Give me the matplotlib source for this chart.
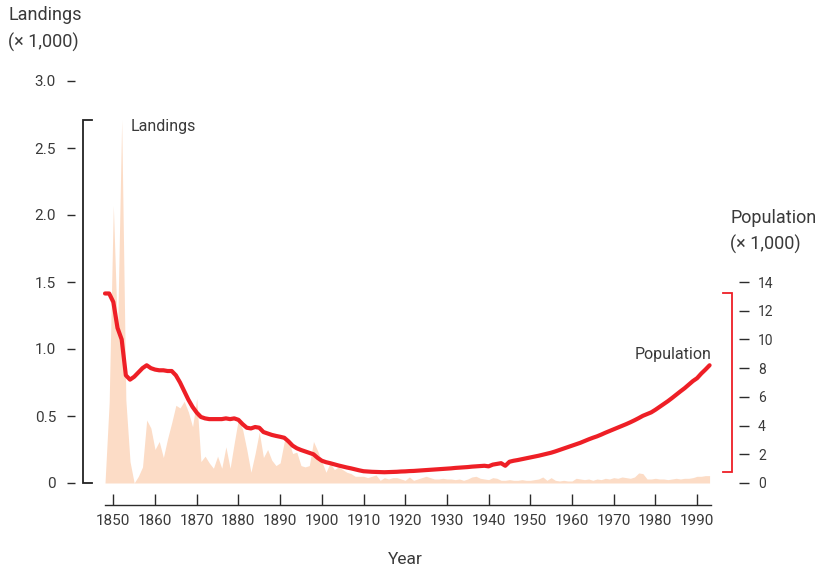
import matplotlib
matplotlib.use("Agg")
import matplotlib.pyplot as plt
import matplotlib.transforms as mtransforms

plt.rcParams["font.family"] = ["Roboto", "DejaVu Sans"]

# ---- data -------------------------------------------------------------
years = list(range(1848, 1994))

# annual landings (thousands)
landings = [
    0.00, 0.60, 2.07, 1.10, 2.71, 0.62, 0.16, 0.00, 0.05, 0.12,   # 1848-1857
    0.47, 0.41, 0.25, 0.31, 0.19, 0.33, 0.45, 0.58, 0.56, 0.61,   # 1858-1867
    0.53, 0.42, 0.63, 0.16, 0.20, 0.15, 0.11, 0.20, 0.11, 0.27,   # 1868-1877
    0.11, 0.30, 0.48, 0.40, 0.25, 0.08, 0.22, 0.38, 0.19, 0.25,   # 1878-1887
    0.17, 0.13, 0.15, 0.31, 0.32, 0.22, 0.23, 0.13, 0.12, 0.13,   # 1888-1897
    0.31, 0.24, 0.16, 0.08, 0.15, 0.10, 0.12, 0.10, 0.08, 0.07,   # 1898-1907
    0.05, 0.05, 0.05, 0.04, 0.05, 0.06, 0.02, 0.04, 0.03, 0.04,   # 1908-1917
    0.04, 0.03, 0.02, 0.045, 0.02, 0.03, 0.04, 0.05, 0.04, 0.03,  # 1918-1927
    0.03, 0.035, 0.03, 0.03, 0.025, 0.03, 0.02, 0.03, 0.045, 0.05,  # 1928-1937
    0.035, 0.03, 0.025, 0.04, 0.035, 0.02, 0.02, 0.025, 0.02, 0.02,  # 1938-1947
    0.025, 0.02, 0.02, 0.025, 0.03, 0.045, 0.02, 0.04, 0.02, 0.015,  # 1948-1957
    0.02, 0.015, 0.015, 0.035, 0.03, 0.025, 0.03, 0.02, 0.03, 0.025,  # 1958-1967
    0.035, 0.03, 0.04, 0.035, 0.045, 0.04, 0.035, 0.045, 0.075, 0.07,  # 1968-1977
    0.03, 0.03, 0.035, 0.03, 0.03, 0.025, 0.03, 0.035, 0.03, 0.035,  # 1978-1987
    0.035, 0.04, 0.05, 0.05, 0.055, 0.055,                           # 1988-1993
]

# population (thousands)
population = [
    13.2, 13.2, 12.6, 10.8, 10.0, 7.5, 7.2, 7.4, 7.7, 8.0,        # 1848-1857
    8.2, 8.0, 7.9, 7.85, 7.85, 7.8, 7.8, 7.5, 7.0, 6.4,           # 1858-1867
    5.8, 5.3, 4.9, 4.6, 4.5, 4.45, 4.45, 4.45, 4.45, 4.5,         # 1868-1877
    4.45, 4.5, 4.4, 4.1, 3.85, 3.8, 3.9, 3.85, 3.55, 3.45,        # 1878-1887
    3.35, 3.28, 3.22, 3.15, 2.9, 2.6, 2.42, 2.3, 2.2, 2.1,        # 1888-1897
    2.0, 1.75, 1.55, 1.45, 1.38, 1.3, 1.22, 1.15, 1.08, 1.02,     # 1898-1907
    0.95, 0.88, 0.82, 0.8, 0.78, 0.77, 0.76, 0.75, 0.76, 0.77,    # 1908-1917
    0.78, 0.8, 0.81, 0.83, 0.84, 0.86, 0.88, 0.9, 0.92, 0.94,     # 1918-1927
    0.96, 0.98, 1.0, 1.02, 1.05, 1.07, 1.09, 1.11, 1.14, 1.16,    # 1928-1937
    1.18, 1.2, 1.16, 1.28, 1.33, 1.38, 1.2, 1.48, 1.55, 1.6,      # 1938-1947
    1.66, 1.72, 1.78, 1.84, 1.9, 1.97, 2.04, 2.11, 2.2, 2.3,      # 1948-1957
    2.4, 2.5, 2.6, 2.7, 2.8, 2.92, 3.04, 3.15, 3.25, 3.37,        # 1958-1967
    3.5, 3.62, 3.74, 3.86, 3.98, 4.1, 4.23, 4.37, 4.52, 4.68,     # 1968-1977
    4.8, 4.92, 5.1, 5.3, 5.5, 5.7, 5.92, 6.15, 6.38, 6.6,         # 1978-1987
    6.85, 7.1, 7.3, 7.62, 7.9, 8.2,                               # 1988-1993
]

year_ticks = list(range(1850, 2000, 10))
landing_ticks = [0, 0.5, 1.0, 1.5, 2.0, 2.5, 3.0]
landing_tick_labels = ["0", "0.5", "1.0", "1.5", "2.0", "2.5", "3.0"]
pop_ticks = list(range(0, 16, 2))

# ---- styling ----------------------------------------------------------
TEXT = "#3a3a3a"
TICK = "#2b2b2b"
FILL = "#fcdcc6"
RED = "#ee1f26"
PT = 0.72  # points per pixel at 100 dpi

W, H = 817, 571
fig = plt.figure(figsize=(W / 100, H / 100), dpi=100)
ax = fig.add_axes([100 / W, (H - 483) / H, 620 / W, 402 / H])
ax.set_xlim(1846.8, 1995.5)
ax.set_ylim(0, 3.0)

ax2 = ax.twinx()
ax2.set_ylim(0, 28.0)

# landings area and population line
ax.fill_between(years, landings, 0, color=FILL, linewidth=0, zorder=1)
ax2.plot(years, population, color=RED, linewidth=3.0,
         solid_capstyle="round", solid_joinstyle="round", zorder=3)

# ---- axes -------------------------------------------------------------
for a in (ax, ax2):
    for s in a.spines.values():
        s.set_visible(False)
    a.patch.set_visible(False)

# left axis: floating ticks
ax.spines["left"].set_position(("outward", 25 * PT))
ax.set_yticks(landing_ticks)
ax.set_yticklabels(landing_tick_labels)
ax.tick_params(axis="y", direction="out", length=8 * PT, width=1.0, color=TICK,
               pad=11 * PT, labelsize=11, labelcolor=TEXT)

# bottom axis
ax.spines["bottom"].set_visible(True)
ax.spines["bottom"].set_position(("outward", 22 * PT))
ax.spines["bottom"].set_bounds(years[0], 1993.3)
ax.spines["bottom"].set_color(TICK)
ax.spines["bottom"].set_linewidth(1.0)
ax.set_xticks(year_ticks)
ax.set_xticklabels([str(y) for y in year_ticks])
ax.tick_params(axis="x", direction="in", length=11 * PT, width=1.0, color=TICK,
               pad=9 * PT, labelsize=11, labelcolor=TEXT)

# right axis
ax2.spines["right"].set_position(("outward", 19 * PT))
ax2.set_yticks(pop_ticks)
ax2.set_yticklabels([str(t) for t in pop_ticks])
ax2.tick_params(axis="y", direction="out", length=10 * PT, width=1.0, color=TICK,
                pad=9 * PT, labelsize=10, labelcolor=TEXT)

# range brackets for each series
lt = mtransforms.blended_transform_factory(ax.transAxes, ax.transData)
lmin, lmax = min(landings), max(landings)
xb, xc = (83.3 - 100) / 620, (91.7 - 100) / 620
ax.plot([xc, xb, xb, xc], [lmax, lmax, lmin, lmin], transform=lt,
        color="#222222", linewidth=1.3, clip_on=False,
        solid_joinstyle="miter", zorder=4)

rt = mtransforms.blended_transform_factory(ax2.transAxes, ax2.transData)
pmin, pmax = min(population), max(population)
xb, xc = (731.7 - 100) / 620, (722.7 - 100) / 620
ax2.plot([xc, xb, xb, xc], [pmax, pmax, pmin, pmin], transform=rt,
         color=RED, linewidth=1.3, clip_on=False,
         solid_joinstyle="miter", zorder=4)

# ---- text -------------------------------------------------------------
def px(x, y):
    return x / W, 1 - y / H

fig.text(*px(8, 15), "Landings", ha="left", va="center", fontsize=13, color=TEXT)
fig.text(*px(8, 42), "(\u00d7 1,000)", ha="left", va="center", fontsize=13, color=TEXT)
fig.text(*px(730, 218), "Population", ha="left", va="center", fontsize=13, color=TEXT)
fig.text(*px(730, 244), "(\u00d7 1,000)", ha="left", va="center", fontsize=13, color=TEXT)
fig.text(*px(405, 560), "Year", ha="center", va="center", fontsize=12.5, color=TEXT)

fig.text(*px(131, 126), "Landings", ha="left", va="center", fontsize=11.5, color=TEXT)
fig.text(*px(712, 354), "Population", ha="right", va="center", fontsize=11.5, color=TEXT)

fig.savefig("out.png", dpi=100)
